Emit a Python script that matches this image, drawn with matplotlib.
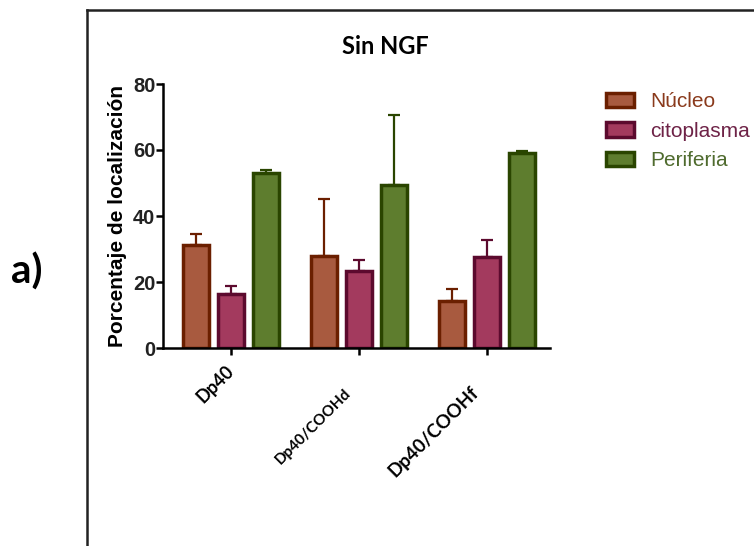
import numpy as np
import matplotlib
matplotlib.use('Agg')
import matplotlib.pyplot as plt
import matplotlib.patches as mpatches
import matplotlib.transforms as mtransforms

groups = ['Dp40', 'Dp40/COOHd', 'Dp40/COOHf']
series = ['Núcleo', 'citoplasma', 'Periferia']
nucleo = [31.2, 27.9, 14.3]
nucleo_err = [3.4, 17.2, 3.7]
citoplasma = [16.3, 23.2, 27.7]
citoplasma_err = [2.4, 3.5, 5.0]
periferia = [52.9, 49.4, 59.0]
periferia_err = [0.9, 21.3, 0.8]

fills = ['#a85a3f', '#a33a5e', '#5e7d2e']
edges = ['#6b1f00', '#5c0a2e', '#2a4500']
text_cols = ['#8a3a1c', '#6e2347', '#4f6b2e']

fig = plt.figure(figsize=(7.54, 5.46), dpi=100)
ax = fig.add_axes([163/754, 1-348/546, (550-163)/754, (348-84)/546])

x = np.arange(len(groups))
width = 0.2
offset = 0.273
data = [(nucleo, nucleo_err), (citoplasma, citoplasma_err), (periferia, periferia_err)]
for i, (vals, errs) in enumerate(data):
    pos = x + (i-1)*offset
    ax.bar(pos, vals, width, color=fills[i], edgecolor=edges[i], linewidth=2.5, zorder=2)
    ax.errorbar(pos, vals, yerr=[np.zeros(3), errs], fmt='none', ecolor=edges[i],
                elinewidth=1.6, capsize=4, capthick=1.6, zorder=1)

ax.set_xlim(-0.53, 2.49)
ax.set_ylim(0, 80)
ax.set_yticks([0, 20, 40, 60, 80])
for s in ['top', 'right']:
    ax.spines[s].set_visible(False)
for s in ['left', 'bottom']:
    ax.spines[s].set_linewidth(1.8)
ax.tick_params(axis='both', width=1.8, length=5, direction='out')
ax.tick_params(axis='y', labelsize=14.5, pad=0.5)
for lab in ax.get_yticklabels():
    lab.set_fontfamily('Liberation Sans')
    lab.set_fontweight('bold')
    lab.set_color('#222222')

ax.set_xticks(x)
ax.set_xticklabels(groups, rotation=45, ha='right', va='top', rotation_mode='anchor',
                   fontfamily='Lato', fontweight='bold')
sizes = [13, 11, 13.5]
shifts = [(-6, -2), (-15, -26), (-17, -24)]
for lab, fs, (dx, dy) in zip(ax.get_xticklabels(), sizes, shifts):
    lab.set_fontsize(fs)
    lab.set_transform(lab.get_transform() + mtransforms.ScaledTranslation(dx/100, dy/100, fig.dpi_scale_trans))

ax.set_ylabel('Porcentaje de localización', fontsize=15, fontweight='bold',
              fontfamily='Liberation Sans', labelpad=4)

fig.text(385/754, 1-47/546, 'Sin NGF', ha='center', va='center', fontsize=17,
         fontweight='bold', fontfamily='Lato')
fig.text(27/754, 1-272/546, 'a)', ha='center', va='center', fontsize=29,
         fontweight='bold', fontfamily='Lato')

handles = [mpatches.Patch(facecolor=fills[i], edgecolor=edges[i], linewidth=2.5, label=series[i])
           for i in range(3)]
leg = fig.legend(handles=handles, loc='upper left', bbox_to_anchor=(598/754, 1-84/546),
                 frameon=False, prop={'family': 'Liberation Sans', 'size': 15},
                 handlelength=1.35, handleheight=0.7, handletextpad=0.75, labelspacing=0.5,
                 borderaxespad=0)
for t, c in zip(leg.get_texts(), text_cols):
    t.set_color(c)

# border around the panel
fig.add_artist(plt.Line2D([87/754, 87/754], [0, 1-10/546], color='#222222', lw=1.8))
fig.add_artist(plt.Line2D([87/754, 1], [1-10/546, 1-10/546], color='#222222', lw=1.8))

fig.savefig('out.png', dpi=100)
